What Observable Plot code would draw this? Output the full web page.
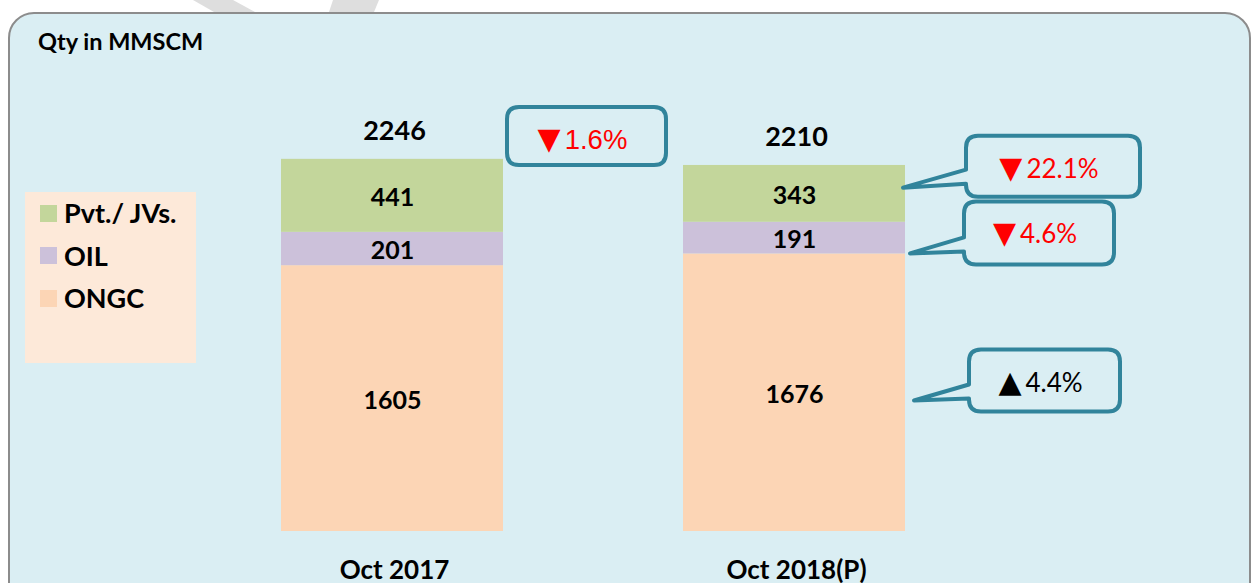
<!DOCTYPE html>
<html>
<head>
<meta charset="utf-8">
<script src="https://cdn.jsdelivr.net/npm/d3@7"></script>
<script src="https://cdn.jsdelivr.net/npm/@observablehq/plot@0.6"></script>
<style>
  html, body { margin: 0; padding: 0; background: #ffffff; }
  #wrap { position: relative; width: 1252px; height: 583px; overflow: hidden; font-family: Lato, "Open Sans", sans-serif; }
  #deco { position: absolute; left: 0; top: 0; }
  #panel { position: absolute; left: 8px; top: 12px; width: 1243px; height: 640px; box-sizing: border-box;
           border: 2px solid #8c8c8c; border-radius: 26px; background: #daeef3; }
  #title { position: absolute; left: 38px; top: 27px; font-weight: 700; font-size: 23.5px; line-height: 28px; color: #000; white-space: nowrap; }
  #legend { position: absolute; left: 25px; top: 192px; width: 171px; height: 171px; background: #fde9d9; }
  .lrow { position: absolute; left: 15px; height: 30px; display: flex; align-items: center; white-space: nowrap; }
  .lsw { width: 17px; height: 17px; margin-right: 7px; flex: none; }
  .ltx { font-weight: 700; font-size: 27px; line-height: 30px; color: #000; }
  #chart { position: absolute; left: 0; top: 0; }
</style>
</head>
<body>
<div id="wrap">
  <svg id="deco" width="1252" height="583"></svg>
  <div id="panel"></div>
  <div id="title">Qty in MMSCM</div>
  <div id="legend"></div>
  <div id="chart"></div>
</div>
<script>
// ---- data ----
const periods = ["Oct 2017", "Oct 2018(P)"];
const seriesNames = ["ONGC", "OIL", "Pvt./ JVs."];      // stack order, bottom to top
const legendOrder = ["Pvt./ JVs.", "OIL", "ONGC"];
const ongc = [1605, 1676];
const oil = [201, 191];
const pvt = [441, 343];
const totals = [2246, 2210];
const changeLabels = ["1.6%", "22.1%", "4.6%", "4.4%"];
const changeUp = [false, false, false, true];
const changeTarget = ["Total", "Pvt./ JVs.", "OIL", "ONGC"];
const changePeriod = ["Oct 2017", "Oct 2018(P)", "Oct 2018(P)", "Oct 2018(P)"];
const seriesColors = ["#fcd5b5", "#ccc1da", "#c3d69b"];

// ---- tables built from the arrays ----
const valuesBySeries = { "ONGC": ongc, "OIL": oil, "Pvt./ JVs.": pvt };
const rows = periods.flatMap((p, i) => seriesNames.map(s => ({ period: p, series: s, value: valuesBySeries[s][i] })));
const totalRows = periods.map((p, i) => ({ period: p, total: totals[i] }));

// ---- decoration (watermark fragments above the panel) ----
const deco = d3.select("#deco");
deco.append("polygon").attr("points", "193,0 233,0 255,12 214,12").attr("fill", "#dedede");
deco.append("polygon").attr("points", "333,0 379,0 374,12 329,12").attr("fill", "#dedede");

// ---- legend ----
const legend = d3.select("#legend");
legendOrder.forEach((s, i) => {
  const row = legend.append("div").attr("class", "lrow").style("top", (6 + i * 42.5) + "px");
  row.append("div").attr("class", "lsw").style("background", seriesColors[seriesNames.indexOf(s)]);
  row.append("div").attr("class", "ltx").text(s);
});

// ---- chart ----
const pxPerUnit = 372 / 2246;
const plot = Plot.plot({
  width: 1252,
  height: 583,
  margin: 0,
  x: { domain: periods, range: [100.7, 1086], padding: 0.448, axis: null },
  y: { domain: [0, 3000], range: [531, 531 - 3000 * pxPerUnit], axis: null },
  color: { domain: seriesNames, range: seriesColors },
  style: { background: "transparent", fontFamily: "Lato, sans-serif", overflow: "visible" },
  marks: [
    Plot.barY(rows, { x: "period", y: "value", fill: "series", order: seriesNames }),
    Plot.text(rows, Plot.stackY({
      x: "period", y: "value", z: "series", order: seriesNames, dy: 2,
      text: d => String(d.value), fontSize: 25, fontWeight: "bold", fill: "#000"
    })),
    Plot.text(totalRows, { x: "period", y: "total", text: d => String(d.total), dy: -28, dx: 2, fontSize: 27, fontWeight: "bold", fill: "#000" }),
    Plot.text(periods, { x: d => d, frameAnchor: "bottom", lineAnchor: "bottom", dy: -5, dx: 2, text: d => d, fontSize: 26, fontWeight: "bold", fill: "#000" })
  ]
});
document.getElementById("chart").appendChild(plot);

// ---- change callouts, positioned from the plot's scales ----
const xs = plot.scale("x"), ys = plot.scale("y");
const bw = xs.bandwidth;
const cum = {};
periods.forEach((p, i) => {
  let acc = 0;
  seriesNames.forEach(s => { const v = valuesBySeries[s][i]; cum[p + "|" + s] = [acc, acc + v]; acc += v; });
  cum[p + "|Total"] = [totals[i], totals[i]];
});
// layout of each callout relative to its anchor: tip fraction along segment, tip dx, box offsets and size
const calloutLayout = [
  { frac: 1, tipDx: 4, pointer: false, boxDx: 0, boxDy: -52, w: 159, h: 58, font: "'Liberation Sans', Arial, sans-serif", size: 27.5 },
  { frac: 0.6, tipDx: -2, pointer: true, boxDx: 63, boxDy: -52, w: 174, h: 61, font: "Lato, sans-serif", size: 26 },
  { frac: 0.0, tipDx: 5, pointer: true, boxDx: 54, boxDy: -52, w: 150, h: 63, font: "Lato, sans-serif", size: 26 },
  { frac: 0.47, tipDx: 9, pointer: true, boxDx: 55, boxDy: -51, w: 151, h: 62, font: "Lato, sans-serif", size: 26 }
];
const svg = d3.select(plot);
const g = svg.append("g");
const r = 12;
changeLabels.forEach((lab, i) => {
  const L0 = calloutLayout[i];
  const seg = cum[changePeriod[i] + "|" + changeTarget[i]];
  const tx = xs.apply(changePeriod[i]) + bw + L0.tipDx;
  const ty = ys.apply(seg[0] + L0.frac * (seg[1] - seg[0]));
  const L = tx + L0.boxDx, T = ty + L0.boxDy, W = L0.w, H = L0.h, R = L + W, B = T + H;
  let p = `M${L + r},${T} H${R - r} Q${R},${T} ${R},${T + r} V${B - r} Q${R},${B} ${R - r},${B} H${L + r} Q${L},${B} ${L},${B - r}`;
  if (L0.pointer) p += ` V${B - 13} L${tx},${ty} L${L},${B - 27}`;
  p += ` V${T + r} Q${L},${T} ${L + r},${T} Z`;
  g.append("path").attr("d", p).attr("fill", "#daeef3").attr("stroke", "#31849b").attr("stroke-width", 4).attr("stroke-linejoin", "round");
  const color = changeUp[i] ? "#000000" : "#ff0000";
  const t = g.append("text").attr("x", L + W / 2 - 4).attr("y", T + 42).attr("text-anchor", "middle")
    .attr("fill", color).attr("font-family", L0.font).attr("font-size", L0.size);
  t.append("tspan").attr("font-family", "'DejaVu Sans', sans-serif").attr("font-size", 30).text(changeUp[i] ? "▲" : "▼");
  t.append("tspan").attr("dx", 4).text(lab);
});
</script>
</body>
</html>
